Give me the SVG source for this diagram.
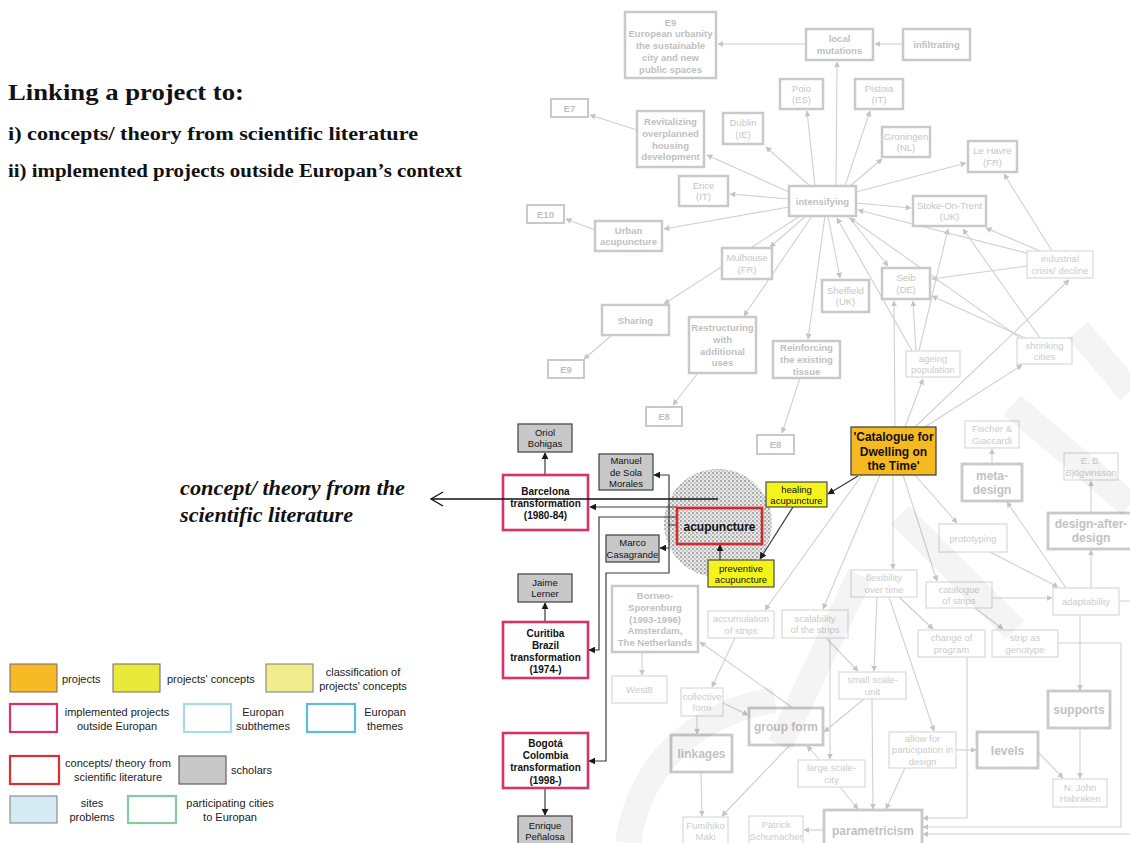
<svg xmlns="http://www.w3.org/2000/svg" width="1130" height="843" viewBox="0 0 1130 843">
<style>
  text { font-family: "Liberation Sans", Arial, sans-serif; text-anchor: middle; }
  .bg { fill: #ffffff; }
  /* faded map: Europan themes, cities, sub-concepts */
  .ft rect { fill: #ffffff; stroke: #c9c9c9; stroke-width: 2.5; }
  .ft text { fill: #bfbfbf; font-size: 9.5px; font-weight: bold; }
  .fc rect { fill: #ffffff; stroke: #c9c9c9; stroke-width: 2.5; }
  .fc text { fill: #c6c6c6; font-size: 9.5px; }
  .fn rect { fill: #ffffff; stroke: #dcdcdc; stroke-width: 1.3; }
  .fn text { fill: #cccccc; font-size: 9.5px; }
  .fb rect { fill: #ffffff; stroke: #c9c9c9; stroke-width: 2.8; }
  .fb text { fill: #c2c2c2; font-size: 12px; font-weight: bold; }
  /* highlighted chain */
  .proj rect { fill: #f7b920; stroke: #3a3a3a; stroke-width: 1.2; }
  .proj text { fill: #111; font-size: 12px; font-weight: bold; }
  .pc rect { fill: #f4f41a; stroke: #4a4a4a; stroke-width: 1.2; }
  .pc text { fill: #111; font-size: 9.5px; }
  .sch rect { fill: #c8c8c8; stroke: #4a4a4a; stroke-width: 1.3; }
  .sch text { fill: #111; font-size: 9.5px; }
  .imp rect { fill: #ffffff; stroke: #d6336c; stroke-width: 2.6; }
  .imp text { fill: #111; font-size: 10px; font-weight: bold; }
  .lit rect { fill: none; stroke: #d22b2b; stroke-width: 2.6; }
  .lit text { fill: #111; font-size: 12px; font-weight: bold; }
  /* connectors */
  .ge { fill: none; stroke: #d0d0d0; stroke-width: 1.1; marker-end: url(#ga); }
  .de { fill: none; stroke: #3a3a3a; stroke-width: 1.2; marker-end: url(#da); }
  /* legend */
  .lg text { fill: #222; font-size: 11px; }
  .lg .l { text-anchor: start; }
  .hd { font-family: "Liberation Serif", "Times New Roman", serif; font-weight: bold; fill: #111; text-anchor: start; }
</style>
<defs>
  <marker id="ga" viewBox="0 0 10 10" refX="9" refY="5" markerWidth="6" markerHeight="6" markerUnits="userSpaceOnUse" orient="auto">
    <path d="M0,0 L10,5 L0,10 z" fill="#c4c4c4"/>
  </marker>
  <marker id="da" viewBox="0 0 10 10" refX="9" refY="5" markerWidth="7" markerHeight="7" markerUnits="userSpaceOnUse" orient="auto">
    <path d="M0,0 L10,5 L0,10 z" fill="#1a1a1a"/>
  </marker>
  <pattern id="hatch" width="4" height="4" patternUnits="userSpaceOnUse">
    <rect width="4" height="4" fill="#e8e8e8"/>
    <rect width="2" height="2" fill="#a9a9a9"/>
    <rect x="2" y="2" width="2" height="2" fill="#c6c6c6"/>
  </pattern>
</defs>

<rect class="bg" width="1130" height="843"/>

<!-- heading -->
<text class="hd" x="8" y="100" font-size="23" textLength="236" lengthAdjust="spacingAndGlyphs">Linking a project to:</text>
<text class="hd" x="8" y="140" font-size="18.5" textLength="410" lengthAdjust="spacingAndGlyphs">i) concepts/ theory from scientific literature</text>
<text class="hd" x="8" y="177" font-size="18.5" textLength="454" lengthAdjust="spacingAndGlyphs">ii) implemented projects outside Europan’s context</text>
<text class="hd" x="180" y="495" font-size="21" font-style="italic" textLength="225" lengthAdjust="spacingAndGlyphs">concept/ theory from the</text>
<text class="hd" x="180" y="522" font-size="21" font-style="italic" textLength="173" lengthAdjust="spacingAndGlyphs">scientific literature</text>

<!-- focus circle around the literature concept -->
<circle cx="718" cy="523" r="54" fill="url(#hatch)"/>

<!-- connectors -->
<g id="connectors">
  <!-- faded map -->
  <path class="ge" d="M836,186 L837,62"/>
  <path class="ge" d="M815,186 L807,111"/>
  <path class="ge" d="M845,186 L870,111"/>
  <path class="ge" d="M850,186 L882,159"/>
  <path class="ge" d="M856,192 L966,163"/>
  <path class="ge" d="M856,203 L911,208"/>
  <path class="ge" d="M810,186 L766,147"/>
  <path class="ge" d="M789,192 L707,155"/>
  <path class="ge" d="M789,199 L730,194"/>
  <path class="ge" d="M789,207 L664,229"/>
  <path class="ge" d="M800,216 L664,304"/>
  <path class="ge" d="M806,216 L770,247"/>
  <path class="ge" d="M812,216 L744,316"/>
  <path class="ge" d="M825,216 L808,339"/>
  <path class="ge" d="M828,216 L840,278"/>
  <path class="ge" d="M848,216 L888,266"/>
  <path class="ge" d="M637,130 L590,115"/>
  <path class="ge" d="M806,44 L718,44"/>
  <path class="ge" d="M903,44 L875,44"/>
  <path class="ge" d="M595,230 L566,219"/>
  <path class="ge" d="M612,335 L584,359"/>
  <path class="ge" d="M698,373 L673,405"/>
  <path class="ge" d="M800,378 L782,433"/>
  <path class="ge" d="M1030,254 L858,210"/>
  <path class="ge" d="M1040,251 L986,228"/>
  <path class="ge" d="M1027,266 L932,279"/>
  <path class="ge" d="M1052,251 L1004,174"/>
  <path class="ge" d="M1020,338 L850,218"/>
  <path class="ge" d="M1025,338 L932,296"/>
  <path class="ge" d="M1040,338 L963,229"/>
  <path class="ge" d="M912,351 L837,218"/>
  <path class="ge" d="M916,351 L913,301"/>
  <path class="ge" d="M919,351 L948,229"/>
  <path class="ge" d="M895,427 L894,301"/>
  <path class="ge" d="M905,427 L923,379"/>
  <path class="ge" d="M915,427 L1069,280"/>
  <path class="ge" d="M925,427 L1022,365"/>
  <path class="ge" d="M862,475 L765,610"/>
  <path class="ge" d="M880,475 L823,609"/>
  <path class="ge" d="M893,475 L893,569"/>
  <path class="ge" d="M903,475 L937,581"/>
  <path class="ge" d="M915,475 L957,523"/>
  <path class="ge" d="M877,597 L874,671"/>
  <path class="ge" d="M899,597 L933,629"/>
  <path class="ge" d="M889,597 L934,731"/>
  <path class="ge" d="M992,598 L1052,598"/>
  <path class="ge" d="M975,608 L1003,629"/>
  <path class="ge" d="M990,552 L1058,587"/>
  <path class="ge" d="M1066,588 L1007,502"/>
  <path class="ge" d="M1091,588 L1091,550"/>
  <path class="ge" d="M1091,513 L1091,481"/>
  <path class="ge" d="M992,464 L992,449"/>
  <path class="ge" d="M1080,615 L1080,690"/>
  <path class="ge" d="M1080,728 L1080,778"/>
  <path class="ge" d="M1038,752 L1063,778"/>
  <path class="ge" d="M956,750 L976,750"/>
  <path class="ge" d="M905,768 L886,809"/>
  <path class="ge" d="M872,699 L873,809"/>
  <path class="ge" d="M864,699 L824,732"/>
  <path class="ge" d="M826,638 L858,671"/>
  <path class="ge" d="M830,638 L830,759"/>
  <path class="ge" d="M840,787 L858,809"/>
  <path class="ge" d="M820,760 L807,746"/>
  <path class="ge" d="M790,745 L722,816"/>
  <path class="ge" d="M701,772 L702,816"/>
  <path class="ge" d="M697,716 L697,734"/>
  <path class="ge" d="M723,703 L748,715"/>
  <path class="ge" d="M735,638 L712,687"/>
  <path class="ge" d="M642,652 L642,675"/>
  <path class="ge" d="M793,708 L700,642"/>
  <path class="ge" d="M824,830 L804,830"/>
  <path class="ge" d="M967,657 L967,818 L923,818"/>
  <path class="ge" d="M1058,643 L1121,643 L1121,827 L923,827"/>
  <path class="ge" d="M1119,601 L1136,601 L1136,834 L923,834"/>

  <!-- highlighted chain -->
  <path class="de" d="M545,475 L545,453"/>
  <path class="de" d="M545,622 L545,603"/>
  <path class="de" d="M545,788 L545,815"/>
  <path class="de" d="M677,507 L590,507"/>
  <path class="de" d="M677,525 L669,525 L669,475 L654,475"/>
  <path class="de" d="M669,525 L669,548 L660,548"/>
  <path class="de" d="M677,517 L599,517 L599,650 L589,650"/>
  <path class="de" d="M669,548 L669,573 L606,573 L606,761 L589,761"/>
  <path class="de" d="M793,507 L760,559"/>
  <path class="de" d="M720,560 L720,545"/>
  <path class="de" d="M858,476 L828,494"/>
</g>

<!-- faded map nodes -->
<g id="n-e9-urbanity" class="ft"><rect x="625" y="12" width="91" height="66"/><text x="670.5" y="25.5">E9<tspan x="670.5" dy="11.8">European urbanity</tspan><tspan x="670.5" dy="11.8">the sustainable</tspan><tspan x="670.5" dy="11.8">city and new</tspan><tspan x="670.5" dy="11.8">public spaces</tspan></text></g>
<g id="n-local-mutations" class="ft"><rect x="806" y="29" width="67" height="31"/><text x="839.5" y="42">local<tspan x="839.5" dy="11.8">mutations</tspan></text></g>
<g id="n-infiltrating" class="ft"><rect x="903" y="29" width="67" height="31"/><text x="936.5" y="48">infiltrating</text></g>
<g id="n-revitalizing" class="ft"><rect x="637" y="111" width="67" height="56"/><text x="670.5" y="125">Revitalizing<tspan x="670.5" dy="11.8">overplanned</tspan><tspan x="670.5" dy="11.8">housing</tspan><tspan x="670.5" dy="11.8">development</tspan></text></g>
<g id="n-intensifying" class="ft"><rect x="789" y="186" width="67" height="30"/><text x="822.5" y="204.5">intensifying</text></g>
<g id="n-urban-acupuncture" class="ft"><rect x="595" y="221" width="67" height="30"/><text x="628.5" y="233.5">Urban<tspan x="628.5" dy="11.8">acupuncture</tspan></text></g>
<g id="n-sharing" class="ft"><rect x="602" y="305" width="67" height="30"/><text x="635.5" y="323.5">Sharing</text></g>
<g id="n-restructuring" class="ft"><rect x="689" y="317" width="67" height="56"/><text x="722.5" y="331">Restructuring<tspan x="722.5" dy="11.8">with</tspan><tspan x="722.5" dy="11.8">additional</tspan><tspan x="722.5" dy="11.8">uses</tspan></text></g>
<g id="n-reinforcing" class="ft"><rect x="773" y="341" width="67" height="37"/><text x="806.5" y="351">Reinforcing<tspan x="806.5" dy="11.8">the existing</tspan><tspan x="806.5" dy="11.8">tissue</tspan></text></g>
<g id="n-e7" class="ft"><rect x="551" y="99" width="37" height="18" style="stroke-width:2"/><text x="569.5" y="111.5">E7</text></g>
<g id="n-e10" class="ft"><rect x="527" y="205" width="37" height="18" style="stroke-width:2"/><text x="545.5" y="217.5">E10</text></g>
<g id="n-e9" class="ft"><rect x="548" y="360" width="36" height="18" style="stroke-width:2"/><text x="566" y="372.5">E9</text></g>
<g id="n-e8a" class="ft"><rect x="646" y="407" width="36" height="19" style="stroke-width:2"/><text x="664" y="420">E8</text></g>
<g id="n-e8b" class="ft"><rect x="757" y="435" width="37" height="19" style="stroke-width:2"/><text x="775.5" y="448">E8</text></g>

<g id="n-poio" class="fc"><rect x="780" y="79" width="43" height="30"/><text x="801.5" y="91.5">Poio<tspan x="801.5" dy="11.8">(ES)</tspan></text></g>
<g id="n-dublin" class="fc"><rect x="723" y="113" width="40" height="31"/><text x="743" y="126">Dublin<tspan x="743" dy="11.8">(IE)</tspan></text></g>
<g id="n-pistoia" class="fc"><rect x="855" y="79" width="48" height="30"/><text x="879" y="91.5">Pistoia<tspan x="879" dy="11.8">(IT)</tspan></text></g>
<g id="n-groningen" class="fc"><rect x="882" y="127" width="48" height="30"/><text x="906" y="139.5">Groningen<tspan x="906" dy="11.8">(NL)</tspan></text></g>
<g id="n-le-havre" class="fc"><rect x="968" y="141" width="49" height="31"/><text x="992.5" y="154">Le Havre<tspan x="992.5" dy="11.8">(FR)</tspan></text></g>
<g id="n-erice" class="fc"><rect x="679" y="176" width="49" height="30"/><text x="703.5" y="188.5">Erice<tspan x="703.5" dy="11.8">(IT)</tspan></text></g>
<g id="n-stoke" class="fc"><rect x="913" y="196" width="73" height="30"/><text x="949.5" y="208.5">Stoke-On-Trent<tspan x="949.5" dy="11.8">(UK)</tspan></text></g>
<g id="n-mulhouse" class="fc"><rect x="722" y="248" width="50" height="31"/><text x="747" y="261">Mulhouse<tspan x="747" dy="11.8">(FR)</tspan></text></g>
<g id="n-sheffield" class="fc"><rect x="822" y="280" width="47" height="32"/><text x="845.5" y="293.5">Sheffield<tspan x="845.5" dy="11.8">(UK)</tspan></text></g>
<g id="n-seib" class="fc"><rect x="882" y="268" width="48" height="31"/><text x="906" y="281">Seib<tspan x="906" dy="11.8">(DE)</tspan></text></g>

<g id="n-industrial" class="fn"><rect x="1027" y="251" width="66" height="27"/><text x="1060" y="262">industrial<tspan x="1060" dy="11.8">crisis/ decline</tspan></text></g>
<g id="n-shrinking" class="fn"><rect x="1017" y="338" width="55" height="26"/><text x="1044.5" y="348.5">shrinking<tspan x="1044.5" dy="11.8">cities</tspan></text></g>
<g id="n-ageing" class="fn"><rect x="906" y="351" width="54" height="26"/><text x="933" y="361.5">ageing<tspan x="933" dy="11.8">population</tspan></text></g>
<g id="n-fischer" class="fn"><rect x="965" y="421" width="54" height="27"/><text x="992" y="432">Fischer &amp;<tspan x="992" dy="11.8">Giaccardi</tspan></text></g>
<g id="n-bjogvinsson" class="fn"><rect x="1064" y="453" width="54" height="27"/><text x="1091" y="464">E. B.<tspan x="1091" dy="11.8">Bjögvinsson</tspan></text></g>
<g id="n-prototyping" class="fn"><rect x="939" y="524" width="68" height="28"/><text x="973" y="541.5">prototyping</text></g>
<g id="n-flexibility" class="fn"><rect x="851" y="570" width="66" height="27"/><text x="884" y="581">flexibility<tspan x="884" dy="11.8">over time</tspan></text></g>
<g id="n-catalogue-strips" class="fn"><rect x="926" y="582" width="66" height="26"/><text x="959" y="592.5">catalogue<tspan x="959" dy="11.8">of strips</tspan></text></g>
<g id="n-adaptability" class="fn"><rect x="1053" y="588" width="66" height="27"/><text x="1086" y="605">adaptability</text></g>
<g id="n-accumulation" class="fn"><rect x="708" y="611" width="66" height="27"/><text x="741" y="622">accumulation<tspan x="741" dy="11.8">of strips</tspan></text></g>
<g id="n-scalability" class="fn"><rect x="782" y="610" width="66" height="28"/><text x="815" y="621.5">scalability<tspan x="815" dy="11.8">of the strips</tspan></text></g>
<g id="n-change-program" class="fn"><rect x="918" y="630" width="67" height="27"/><text x="951.5" y="641">change of<tspan x="951.5" dy="11.8">program</tspan></text></g>
<g id="n-strip-genotype" class="fn"><rect x="992" y="630" width="66" height="27"/><text x="1025" y="641">strip as<tspan x="1025" dy="11.8">genotype</tspan></text></g>
<g id="n-small-scale" class="fn"><rect x="839" y="672" width="67" height="27"/><text x="872.5" y="683">small scale-<tspan x="872.5" dy="11.8">unit</tspan></text></g>
<g id="n-collective" class="fn"><rect x="681" y="688" width="42" height="28"/><text x="702" y="699.5">collective<tspan x="702" dy="11.8">form</tspan></text></g>
<g id="n-west8" class="fn"><rect x="612" y="676" width="55" height="27"/><text x="639.5" y="693">West8</text></g>
<g id="n-allow" class="fn"><rect x="889" y="732" width="67" height="36"/><text x="922.5" y="741.5">allow for<tspan x="922.5" dy="11.8">participation in</tspan><tspan x="922.5" dy="11.8">design</tspan></text></g>
<g id="n-large-scale" class="fn"><rect x="798" y="760" width="67" height="27"/><text x="831.5" y="771">large scale-<tspan x="831.5" dy="11.8">city</tspan></text></g>
<g id="n-habraken" class="fn"><rect x="1053" y="779" width="54" height="28"/><text x="1080" y="790.5">N. John<tspan x="1080" dy="11.8">Habraken</tspan></text></g>
<g id="n-maki" class="fn"><rect x="683" y="817" width="45" height="32"/><text x="705.5" y="828.5">Fumihiko<tspan x="705.5" dy="11.8">Maki</tspan></text></g>
<g id="n-schumacher" class="fn"><rect x="749" y="816" width="54" height="32"/><text x="776" y="828">Patrick<tspan x="776" dy="11.8">Schumacher</tspan></text></g>

<g id="n-meta-design" class="fb"><rect x="962" y="464" width="60" height="37"/><text x="992" y="480">meta-<tspan x="992" dy="14">design</tspan></text></g>
<g id="n-design-after" class="fb"><rect x="1048" y="513" width="86" height="36"/><text x="1091" y="528">design-after-<tspan x="1091" dy="14">design</tspan></text></g>
<g id="n-supports" class="fb"><rect x="1048" y="691" width="62" height="37"/><text x="1079" y="714">supports</text></g>
<g id="n-levels" class="fb"><rect x="977" y="732" width="61" height="36"/><text x="1007.5" y="754.5">levels</text></g>
<g id="n-group-form" class="fb"><rect x="749" y="708" width="74" height="37"/><text x="786" y="731">group form</text></g>
<g id="n-linkages" class="fb"><rect x="671" y="735" width="61" height="37"/><text x="701.5" y="758">linkages</text></g>
<g id="n-parametricism" class="fb"><rect x="824" y="810" width="98" height="40"/><text x="873" y="834.5">parametricism</text></g>
<g id="n-borneo" class="ft"><rect x="612" y="586" width="86" height="66"/><text x="655" y="599">Borneo-<tspan x="655" dy="11.8">Sporenburg</tspan><tspan x="655" dy="11.8">(1993-1996)</tspan><tspan x="655" dy="11.8">Amsterdam,</tspan><tspan x="655" dy="11.8">The Netherlands</tspan></text></g>

<!-- highlighted nodes -->
<g id="n-catalogue" class="proj"><rect x="851" y="427" width="85" height="48"/><text x="893.5" y="441">'Catalogue for<tspan x="893.5" dy="14.5">Dwelling on</tspan><tspan x="893.5" dy="14.5">the Time'</tspan></text></g>
<g id="n-healing" class="pc"><rect x="766" y="482" width="61" height="25"/><text x="796.5" y="492.5">healing<tspan x="796.5" dy="11.5">acupuncture</tspan></text></g>
<g id="n-preventive" class="pc"><rect x="708" y="560" width="66" height="27"/><text x="741" y="571.5">preventive<tspan x="741" dy="11.5">acupuncture</tspan></text></g>
<g id="n-acupuncture" class="lit"><rect x="677" y="508" width="85" height="36"/><text x="719.5" y="530.5">acupuncture</text></g>
<g id="n-barcelona" class="imp"><rect x="503" y="475" width="85" height="55"/><text x="545.5" y="494.5">Barcelona<tspan x="545.5" dy="12.2">transformation</tspan><tspan x="545.5" dy="12.2">(1980-84)</tspan></text></g>
<g id="n-curitiba" class="imp"><rect x="503" y="622" width="85" height="56"/><text x="545.5" y="636.5">Curitiba<tspan x="545.5" dy="12.2">Brazil</tspan><tspan x="545.5" dy="12.2">transformation</tspan><tspan x="545.5" dy="12.2">(1974-)</tspan></text></g>
<g id="n-bogota" class="imp"><rect x="503" y="733" width="85" height="55"/><text x="545.5" y="747">Bogotá<tspan x="545.5" dy="12.2">Colombia</tspan><tspan x="545.5" dy="12.2">transformation</tspan><tspan x="545.5" dy="12.2">(1998-)</tspan></text></g>
<g id="n-bohigas" class="sch"><rect x="518" y="424" width="54" height="28"/><text x="545" y="435.5">Oriol<tspan x="545" dy="11.5">Bohigas</tspan></text></g>
<g id="n-sola-morales" class="sch"><rect x="599" y="454" width="54" height="36"/><text x="626" y="464">Manuel<tspan x="626" dy="11.5">de Sola</tspan><tspan x="626" dy="11.5">Morales</tspan></text></g>
<g id="n-casagrande" class="sch"><rect x="606" y="535" width="53" height="27"/><text x="632.5" y="546">Marco<tspan x="632.5" dy="11.5">Casagrande</tspan></text></g>
<g id="n-lerner" class="sch"><rect x="518" y="574" width="54" height="28"/><text x="545" y="585.5">Jaime<tspan x="545" dy="11.5">Lerner</tspan></text></g>
<g id="n-penalosa" class="sch"><rect x="518" y="816" width="54" height="30"/><text x="545" y="828.5">Enrique<tspan x="545" dy="11.5">Peñalosa</tspan></text></g>

<!-- pointer to the literature concept -->
<g id="pointer">
  <path d="M718,499 L431,499" stroke="#111" stroke-width="1.4" fill="none"/>
  <path d="M443,492 L431,499 L443,506" stroke="#111" stroke-width="1.3" fill="none"/>
</g>

<!-- legend -->
<g id="legend" class="lg">
  <rect x="10" y="664" width="47" height="28" fill="#f7b924" stroke="#6a6a6a" stroke-width="1"/>
  <text class="l" x="62" y="683">projects</text>
  <rect x="113" y="664" width="47" height="28" fill="#e9e93a" stroke="#6a6a6a" stroke-width="1"/>
  <text class="l" x="167" y="683">projects' concepts</text>
  <rect x="266" y="664" width="47" height="28" fill="#f1ed8c" stroke="#7a7a7a" stroke-width="1"/>
  <text x="363" y="676">classification of<tspan x="363" dy="14">projects' concepts</tspan></text>
  <rect x="10" y="704" width="47" height="28" fill="#fff" stroke="#d6336c" stroke-width="2.2"/>
  <text x="117" y="716">implemented projects<tspan x="117" dy="14">outside Europan</tspan></text>
  <rect x="184" y="704" width="47" height="28" fill="#fff" stroke="#a6dbe3" stroke-width="2.2"/>
  <text x="263" y="716">Europan<tspan x="263" dy="14">subthemes</tspan></text>
  <rect x="307" y="704" width="48" height="28" fill="#fff" stroke="#5bbdd6" stroke-width="2.2"/>
  <text x="385" y="716">Europan<tspan x="385" dy="14">themes</tspan></text>
  <rect x="10" y="756" width="49" height="28" fill="#fff" stroke="#d93030" stroke-width="2.2"/>
  <text x="118" y="767">concepts/ theory from<tspan x="118" dy="14">scientific literature</tspan></text>
  <rect x="179" y="756" width="47" height="28" fill="#c8c8c8" stroke="#555" stroke-width="1.1"/>
  <text class="l" x="231" y="774">scholars</text>
  <rect x="10" y="796" width="47" height="27" fill="#d5ebf3" stroke="#7a7a7a" stroke-width="1"/>
  <text x="92" y="807">sites<tspan x="92" dy="14">problems</tspan></text>
  <rect x="128" y="796" width="48" height="27" fill="#fff" stroke="#86cca0" stroke-width="2.2"/>
  <text x="230" y="807">participating cities<tspan x="230" dy="14">to Europan</tspan></text>
</g>

<!-- faint watermark over the map -->
<g id="watermark" fill="none" stroke="#000" stroke-opacity="0.045" stroke-width="26">
  <path d="M1078,330 L1130,392"/>
  <path d="M1012,405 L1130,505"/>
  <path d="M900,515 L1015,630"/>
  <path d="M860,575 L780,745"/>
  <path d="M628,843 C640,760 700,712 775,700"/>
</g>
</svg>
